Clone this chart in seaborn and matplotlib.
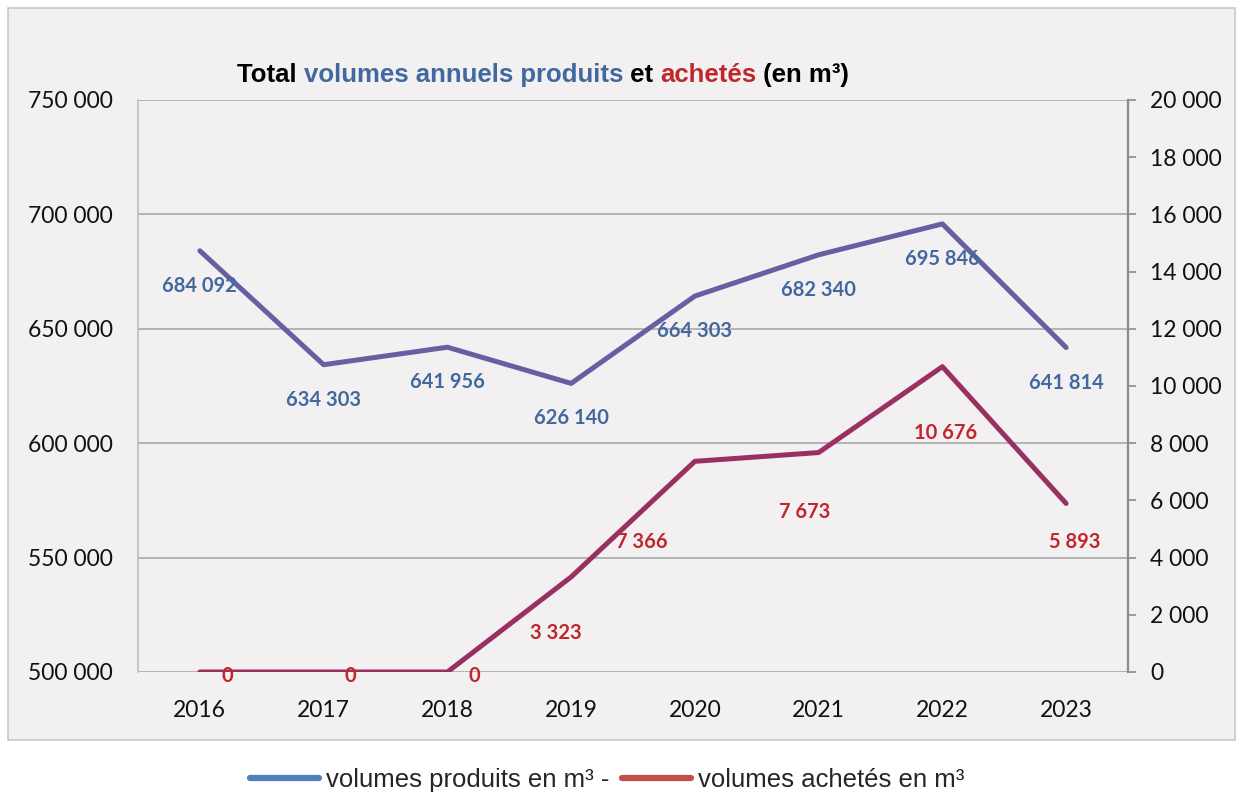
#!/usr/bin/env python3
"""
Total annual volumes produced and purchased (m3), dual axis line chart
"""

import matplotlib.pyplot as plt
import matplotlib.patches as mpatches
from matplotlib.lines import Line2D
import seaborn as sns
import pandas as pd

years = ['2016', '2017', '2018', '2019', '2020', '2021', '2022', '2023']
produits = [684092, 634303, 641956, 626140, 664303, 682340, 695846, 641814]
achetes = [0, 0, 0, 3323, 7366, 7673, 10676, 5893]

left_ticks = [500000, 550000, 600000, 650000, 700000, 750000]
right_ticks = [0, 2000, 4000, 6000, 8000, 10000, 12000, 14000, 16000, 18000, 20000]

# label offsets in pixels (manual placement like the original)
prod_offsets = [(0, -35)] * 8
ach_offsets = [(27, -4), (27, -4), (27, -4), (-15, -56), (-53, -81), (-14, -59), (3, -66), (9, -39)]


def fmt(v):
    return f'{v:,}'.replace(',', ' ')


def make_chart():
    sns.set_style('white')
    plt.rcParams['font.family'] = ['Lato', 'DejaVu Sans']

    df = pd.DataFrame({'annee': years, 'produits': produits, 'achetes': achetes})

    bg = '#F2F0F0'
    blue_line = '#6660A2'
    red_line = '#9A2F62'
    blue_txt = '#41689F'
    red_txt = '#C0272D'
    grid_c = '#A8A8A8'
    tick_c = '#111111'

    fig = plt.figure(figsize=(12.39, 7.96), dpi=100)
    fig.patch.set_facecolor('white')
    fig.patches.append(mpatches.Rectangle((8 / 1239, 1 - 740 / 796), 1227 / 1239, 732 / 796,
                                          transform=fig.transFigure, facecolor=bg,
                                          edgecolor='#C8C8C8', lw=1.2, zorder=-5))

    ax = fig.add_axes([138 / 1239, 124 / 796, 990 / 1239, 572 / 796])
    ax.set_facecolor(bg)
    ax.set_zorder(2)
    ax2 = ax.twinx()
    ax2.set_zorder(3)

    sns.lineplot(data=df, x='annee', y='produits', ax=ax, color=blue_line, lw=3.6,
                 sort=False, solid_capstyle='round', zorder=3)
    sns.lineplot(data=df, x='annee', y='achetes', ax=ax2, color=red_line, lw=3.6,
                 sort=False, solid_capstyle='round', zorder=3)

    ax.set_xlim(-0.5, len(years) - 0.5)
    ax.set_ylim(left_ticks[0], left_ticks[-1])
    ax2.set_ylim(right_ticks[0], right_ticks[-1])

    ax.set_yticks(left_ticks)
    ax.set_yticklabels([fmt(v) for v in left_ticks], fontsize=16.5, color=tick_c)
    ax2.set_yticks(right_ticks)
    ax2.set_yticklabels([fmt(v) for v in right_ticks], fontsize=16.5, color=tick_c)
    ax.tick_params(axis='x', labelsize=16.5, colors=tick_c, length=0, pad=20)
    ax.tick_params(axis='y', length=0, pad=18)
    ax2.tick_params(axis='y', length=6, width=1.2, color='#8C8C8C', direction='out', pad=10)

    ax.set_xlabel('')
    ax.set_ylabel('')
    ax2.set_ylabel('')

    ax.yaxis.grid(True, color=grid_c, lw=1.2)
    ax.xaxis.grid(False)
    ax2.grid(False)
    ax.set_axisbelow(True)

    for s in ['top', 'bottom']:
        ax.spines[s].set_visible(False)
        ax2.spines[s].set_visible(False)
    ax.spines['right'].set_visible(False)
    ax2.spines['left'].set_visible(False)
    ax.spines['left'].set_color('#BDBDBD')
    ax.spines['left'].set_linewidth(1.2)
    ax2.spines['right'].set_color('#8C8C8C')
    ax2.spines['right'].set_linewidth(1.6)

    # data labels
    for i, v in enumerate(produits):
        ax.annotate(fmt(v), (i, v), xytext=prod_offsets[i], textcoords='offset pixels',
                    ha='center', va='center', fontsize=14.5, fontweight='bold',
                    color=blue_txt, zorder=5)
    for i, v in enumerate(achetes):
        ax2.annotate(fmt(v), (i, v), xytext=ach_offsets[i], textcoords='offset pixels',
                     ha='center', va='center', fontsize=14.5, fontweight='bold',
                     color=red_txt, zorder=5)

    # multi-coloured title
    title_font = ['Liberation Sans', 'DejaVu Sans']
    parts = [('Total ', 'black'), ('volumes annuels produits', blue_txt), (' et ', 'black'),
             ('achetés', red_txt), (' (en m³)', 'black')]
    renderer = fig.canvas.get_renderer()
    texts = []
    x = 0.0
    for s, c in parts:
        t = fig.text(x, 0.906, s, color=c, fontsize=18.5, fontweight='bold',
                     family=title_font, ha='left', va='center')
        bb = t.get_window_extent(renderer)
        x += bb.width / fig.bbox.width
        texts.append(t)
    start = 543 / 1239 - x / 2
    for t in texts:
        t.set_x(t.get_position()[0] + start)

    # legend
    handles = [Line2D([], [], color='#4F81BD', lw=4.5),
               Line2D([], [], color='#C0504D', lw=4.5)]
    fig.legend(handles, ['volumes produits en m³ -', 'volumes achetés en m³'],
               loc='center', bbox_to_anchor=(0.49, 0.02), ncol=2, frameon=False,
               handlelength=2.7, handletextpad=0.25, columnspacing=0.5,
               prop={'family': title_font, 'size': 18.5})

    plt.savefig('out.png', dpi=100, facecolor='white')
    plt.close()


if __name__ == '__main__':
    make_chart()
